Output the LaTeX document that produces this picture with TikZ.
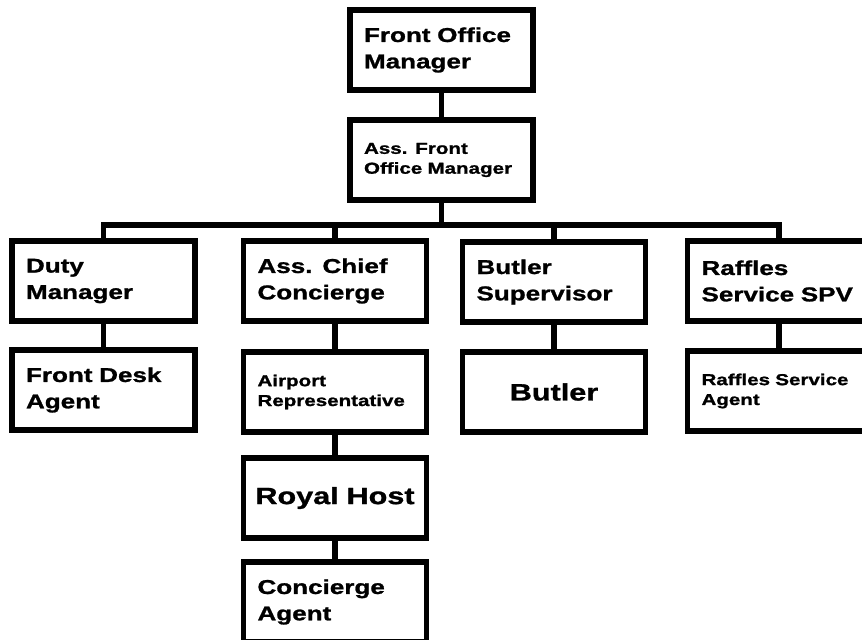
\documentclass[tikz,border=0pt]{standalone}
\usepackage{fontspec}
\setmainfont[FakeStretch=1.3,BoldFeatures={FakeBold=1.2}]{Liberation Sans}
\begin{document}
\begin{tikzpicture}[x=0.02cm,y=-0.02cm,
    post/.style={draw, line width=3pt, minimum width=3.66cm, minimum height=1.6cm,
      inner xsep=0pt, text width=3.1cm, align=left},
    big/.style={font=\bfseries\fontsize{11.4}{15}\selectfont},
    small/.style={font=\bfseries\fontsize{9}{11.3}\selectfont},
    large/.style={font=\bfseries\fontsize{13.4}{16}\selectfont, text width=3.5cm, align=center},
    link/.style={line width=3pt}]
	\useasboundingbox (0,0) rectangle (862,639);
	\fill[white] (0,0) rectangle (862,639);
	\clip (0,0) rectangle (862,639);

            % top of the chart
            \node[post,big] (fom) at (441.5,50) {Front Office\\Manager};
            \node[post,small] (afom) at (441.5,160) {Ass. Front\\Office Manager};

            \node[post,big] (duty) at (103.5,281) {Duty\\Manager};
            \node[post,big] (acc) at (335,281) {Ass. Chief\\Concierge};
            \node[post,big] (bsup) at (554,282) {Butler\\Supervisor};
            \node[post,big] (rspv) at (779,281) {Raffles\\Service SPV};

            \node[post,big] (fda) at (103.5,390) {Front Desk\\Agent};
            \node[post,small] (arep) at (335,392) {Airport\\Representative};
            \node[post,large] (butler) at (554,392) {Butler};
            \node[post,small] (rsa) at (779,391) {Raffles Service\\Agent};

            \node[post,large] (royal) at (335,498) {Royal Host};
            \node[post,big] (cagent) at (335,602) {Concierge\\Agent};

            \coordinate (bar) at (441.5,225);
            \draw[link] (fom) -- (afom);
            \draw[link] (afom) -- (bar);

            \foreach \n in {duty,acc,bsup,rspv}{
              \draw[link] (bar) -| (\n.north);
            }

            \draw[link] (duty) -- (fda);
            \draw[link] (acc) -- (arep);
            \draw[link] (arep) -- (royal);
            \draw[link] (royal) -- (cagent);
            \draw[link] (bsup) -- (butler);
            \draw[link] (rspv) -- (rsa);
        \end{tikzpicture}
\end{document}
